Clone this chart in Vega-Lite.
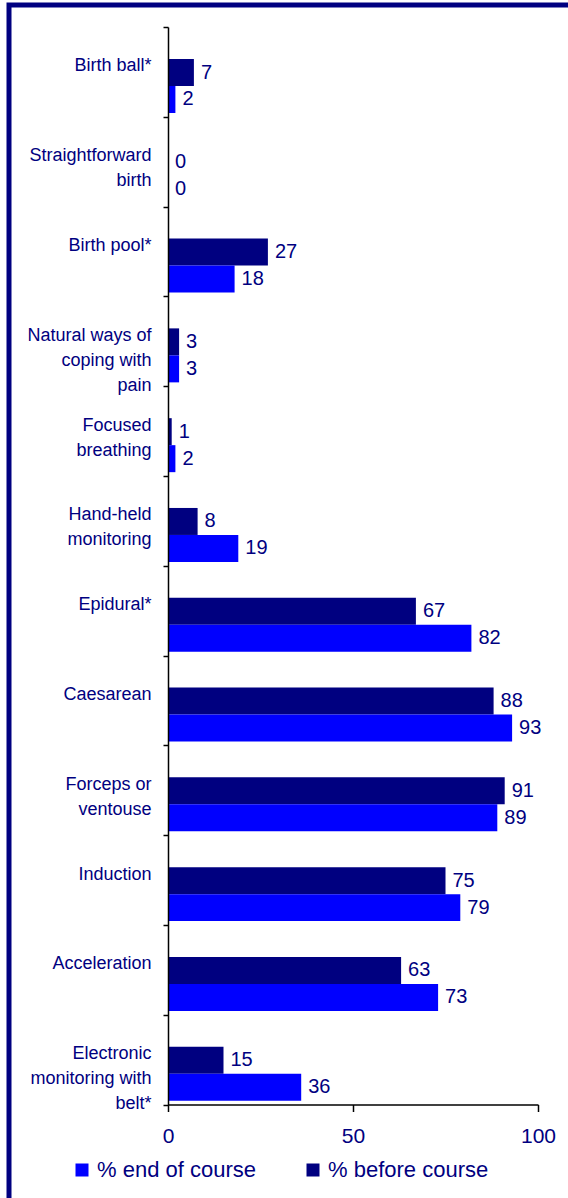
{
  "$schema": "https://vega.github.io/schema/vega-lite/v6.json",
  "autosize": {"type": "none"},
  "padding": {"left": 9, "top": 5, "right": -8, "bottom": -8},
  "width": 567,
  "height": 1201,
  "background": "white",
  "config": {"font": "Liberation Sans", "view": {"stroke": "#000080", "strokeWidth": 5}},
  "data": {"values": [
    {"cat": "Birth ball*", "series": "% before course", "value": 7},
    {"cat": "Birth ball*", "series": "% end of course", "value": 2},
    {"cat": "Straightforward|birth", "series": "% before course", "value": 0},
    {"cat": "Straightforward|birth", "series": "% end of course", "value": 0},
    {"cat": "Birth pool*", "series": "% before course", "value": 27},
    {"cat": "Birth pool*", "series": "% end of course", "value": 18},
    {"cat": "Natural ways of|coping with|pain", "series": "% before course", "value": 3},
    {"cat": "Natural ways of|coping with|pain", "series": "% end of course", "value": 3},
    {"cat": "Focused|breathing", "series": "% before course", "value": 1},
    {"cat": "Focused|breathing", "series": "% end of course", "value": 2},
    {"cat": "Hand-held|monitoring", "series": "% before course", "value": 8},
    {"cat": "Hand-held|monitoring", "series": "% end of course", "value": 19},
    {"cat": "Epidural*", "series": "% before course", "value": 67},
    {"cat": "Epidural*", "series": "% end of course", "value": 82},
    {"cat": "Caesarean", "series": "% before course", "value": 88},
    {"cat": "Caesarean", "series": "% end of course", "value": 93},
    {"cat": "Forceps or|ventouse", "series": "% before course", "value": 91},
    {"cat": "Forceps or|ventouse", "series": "% end of course", "value": 89},
    {"cat": "Induction", "series": "% before course", "value": 75},
    {"cat": "Induction", "series": "% end of course", "value": 79},
    {"cat": "Acceleration", "series": "% before course", "value": 63},
    {"cat": "Acceleration", "series": "% end of course", "value": 73},
    {"cat": "Electronic|monitoring with|belt*", "series": "% before course", "value": 15},
    {"cat": "Electronic|monitoring with|belt*", "series": "% end of course", "value": 36}
  ]},
  "encoding": {
    "y": {
      "field": "cat", "type": "nominal",
      "sort": ["Birth ball*", "Straightforward|birth", "Birth pool*", "Natural ways of|coping with|pain", "Focused|breathing", "Hand-held|monitoring", "Epidural*", "Caesarean", "Forceps or|ventouse", "Induction", "Acceleration", "Electronic|monitoring with|belt*"],
      "scale": {"range": [22, 1099.5], "paddingInner": 0, "paddingOuter": 0},
      "axis": {
        "orient": "left", "offset": -159, "title": null, "zindex": 1,
        "tickBand": "extent",
        "domainColor": "black", "domainWidth": 1.5,
        "tickColor": "black", "tickWidth": 1.5, "tickSize": 5,
        "labelFontSize": 18, "labelColor": "#000080", "labelPadding": 12,
        "labelLineHeight": 25, "labelLimit": 250, "labelOffset": -6,
        "labelExpr": "split(datum.label, '|')"
      }
    },
    "yOffset": {
      "field": "series", "type": "nominal",
      "sort": ["% before course", "% end of course"],
      "scale": {"paddingInner": 0, "paddingOuter": 0.663, "align": 0.894}
    },
    "x": {
      "field": "value", "type": "quantitative",
      "scale": {"domain": [0, 100], "range": [159, 529], "nice": false},
      "axis": {
        "orient": "bottom", "offset": -101.5, "title": null, "zindex": 1,
        "values": [0, 50, 100], "grid": false,
        "domainColor": "black", "domainWidth": 1.5,
        "tickColor": "black", "tickWidth": 1.5, "tickSize": 7,
        "labelFontSize": 21, "labelColor": "#000080", "labelPadding": 14,
        "labelFlush": false
      }
    }
  },
  "layer": [
    {
      "mark": {"type": "bar"},
      "encoding": {
        "color": {
          "field": "series", "type": "nominal",
          "sort": ["% end of course", "% before course"],
          "scale": {"domain": ["% end of course", "% before course"], "range": ["#0000FF", "#000080"]},
          "legend": {
            "title": null, "orient": "none", "direction": "horizontal",
            "legendX": 62, "legendY": 1154, "padding": 0,
            "symbolType": "square", "symbolSize": 169, "symbolStrokeWidth": 0,
            "labelFontSize": 22, "labelColor": "#000080", "labelOffset": 4,
            "columnPadding": 46, "labelLimit": 300
          }
        }
      }
    },
    {
      "mark": {"type": "text", "align": "left", "baseline": "middle", "dx": 7, "fontSize": 20, "color": "#000080"},
      "encoding": {"text": {"field": "value", "type": "quantitative"}}
    }
  ]
}
